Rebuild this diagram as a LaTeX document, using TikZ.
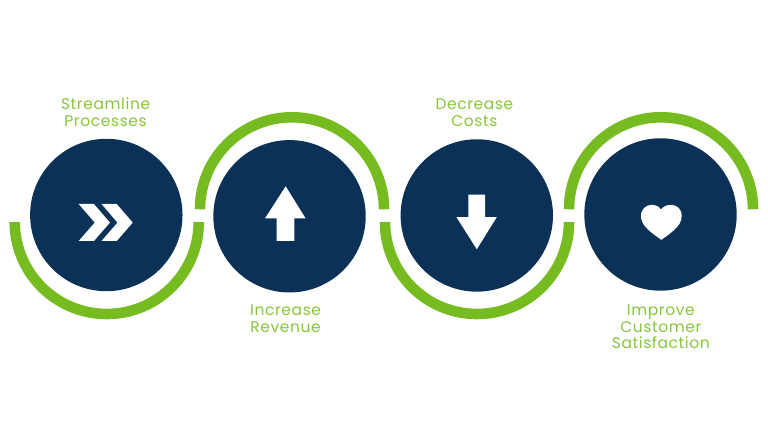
\documentclass[tikz,border=0pt]{standalone}
\usepackage{fontspec}
\usepackage{xcolor}
\setmainfont{Poppins}[LetterSpace=4]
\usetikzlibrary{positioning}
\definecolor{navy}{HTML}{0B3256}
\definecolor{ring}{HTML}{76BC21}
\definecolor{lbl}{HTML}{86C63A}

\begin{document}
\begin{tikzpicture}[font=\fontsize{11}{12}\selectfont,
  disc/.style={circle,fill=navy,minimum size=3.81cm,inner sep=0pt},
  arcline/.style={draw=ring,line width=2.65mm},
  icon/.style={fill=white},
  lab/.style={text=lbl,align=center,inner sep=0pt}]
\useasboundingbox (0,0) rectangle (19.2,10.8);
\node[disc] (c1) at (2.658,5.425) {};
\node[disc] (c2) at (7.238,5.393) {};
\node[disc] (c3) at (11.92,5.413) {};
\node[disc] (c4) at (16.513,5.438) {};
% arcs
\coordinate (a1) at (0.368,5.25);
\coordinate (a2) at (5.0,5.568);
\coordinate (a3) at (9.625,5.25);
\coordinate (a4) at (14.225,5.568);
\draw[arcline] (a1) arc[start angle=180,end angle=360,radius=2.3];
\draw[arcline] (a2) arc[start angle=180,end angle=0,radius=2.3];
\draw[arcline] (a3) arc[start angle=180,end angle=360,radius=2.3];
\draw[arcline] (a4) arc[start angle=180,end angle=0,radius=2.3];
% icons
\fill[icon,shift={(c1.center)}] (-.69,.275) -- (-.31,.275) -- (.09,-.19) -- (-.31,-.65) -- (-.69,-.65) -- (-.29,-.19) -- cycle;
\fill[icon,shift={(c1.center)}] (-.12,.275) -- (.26,.275) -- (.66,-.19) -- (.26,-.65) -- (-.12,-.65) -- (.28,-.19) -- cycle;
\fill[icon,shift={(c2.center)}] (-.096,.75) -- (.40,-.05) -- (.12,-.05) -- (.12,-.617) -- (-.32,-.617) -- (-.32,-.05) -- (-.61,-.05) -- cycle;
\fill[icon,shift={(c3.center)}] (0,-.845) -- (.50,-.04) -- (.21,-.04) -- (.21,.52) -- (-.21,.52) -- (-.21,-.04) -- (-.51,-.04) -- cycle;
\fill[icon,shift={(c4.center)}] (.02,-.635) .. controls (-.2,-.47) and (-.49,-.3) .. (-.49,-.04) .. controls (-.49,.14) and (-.36,.24) .. (-.22,.24) .. controls (-.11,.24) and (-.03,.19) .. (.012,.125) .. controls (.06,.19) and (.14,.24) .. (.26,.24) .. controls (.41,.24) and (.53,.14) .. (.53,-.04) .. controls (.53,-.3) and (.24,-.47) .. (.02,-.635) -- cycle;
% labels
\node[lab] (t1) at (2.64,7.99) {Streamline\\Processes};
\node[lab] (t2) at (7.14,2.84) {Increase\\Revenue};
\node[lab] (t3) at (11.86,7.99) {Decrease\\Costs};
\node[lab] (t4) at (16.52,2.63) {Improve\\Customer\\Satisfaction};
\end{tikzpicture}
\end{document}
